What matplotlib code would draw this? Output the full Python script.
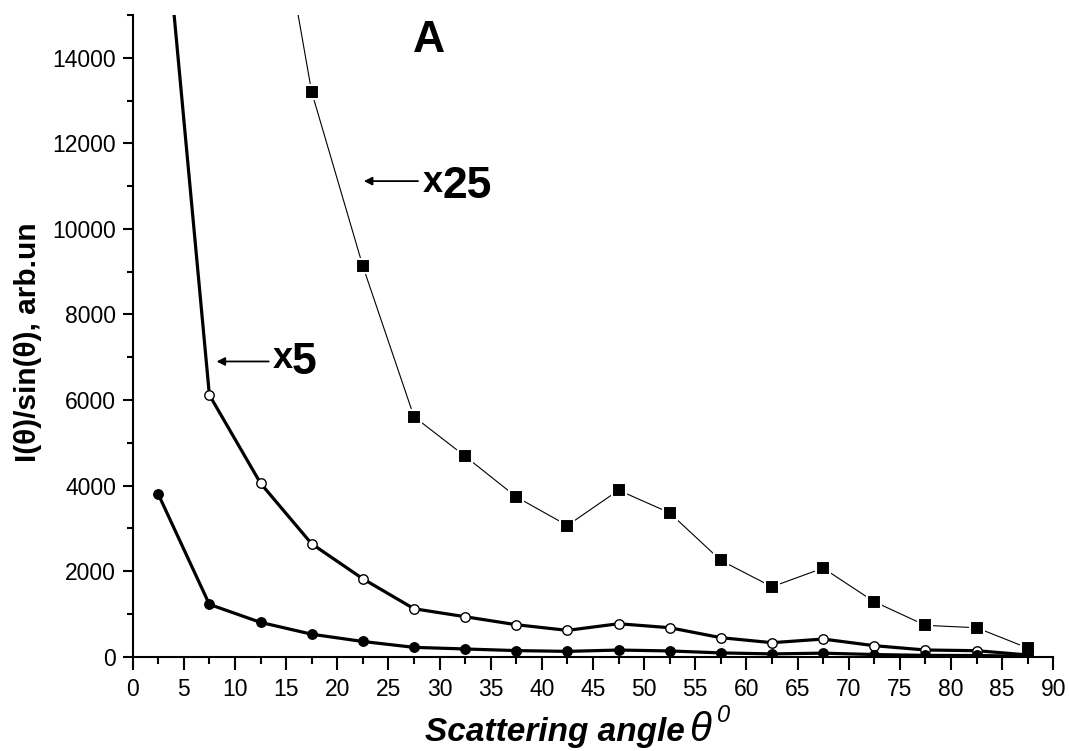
import matplotlib.pyplot as plt
from matplotlib.ticker import MultipleLocator

plt.rcParams['font.family'] = ['Liberation Sans', 'DejaVu Sans']

# scattering angles (deg)
angle = [2.5, 7.5, 12.5, 17.5, 22.5, 27.5, 32.5, 37.5, 42.5, 47.5,
         52.5, 57.5, 62.5, 67.5, 72.5, 77.5, 82.5, 87.5]

# measured I/sin, filled circles
raw = [3800, 1222, 802, 525, 355, 218, 180, 142, 124, 155,
       134, 88, 65, 82, 50, 30, 28, 8]

# x5 curve, open circles (first point is off-scale)
x5 = [19000, 6117, 4054, 2638, 1821, 1121, 934, 747, 615, 770,
      677, 444, 327, 412, 257, 156, 140, 40]

# x25 curve, squares (starts at 12.5, first point off-scale)
angle25 = angle[2:]
x25 = [20000, 13200, 9130, 5610, 4685, 3735, 3066, 3891,
       3362, 2249, 1634, 2070, 1284, 732, 677, 202]

fig = plt.figure(figsize=(10.69, 7.51), dpi=100)
ax = fig.add_axes([0.1241, 0.1256, 0.8612, 0.8545])

ax.plot(angle25, x25, '-', color='black', lw=0.8, marker='s', ms=10,
        mfc='black', mec='white', mew=1.5, zorder=3)
ax.plot(angle, x5, '-', color='black', lw=2.3, marker='o', ms=6.8,
        mfc='white', mec='black', mew=1.0, zorder=4)
ax.plot(angle, raw, '-', color='black', lw=2.3, marker='o', ms=6.8,
        mfc='black', mec='black', zorder=5)

ax.set_xlim(0, 90)
ax.set_ylim(0, 15000)
ax.xaxis.set_major_locator(MultipleLocator(5))
ax.xaxis.set_minor_locator(MultipleLocator(2.5))
ax.yaxis.set_minor_locator(MultipleLocator(1000))
ax.set_yticks(range(0, 15000, 2000))
ax.tick_params(which='major', direction='out', width=1.5, labelsize=16.5)
ax.tick_params(axis='x', which='major', length=9, pad=6)
ax.tick_params(axis='x', which='minor', length=5, width=1.5)
ax.tick_params(axis='y', which='major', length=7, pad=5)
ax.tick_params(axis='y', which='minor', length=4, width=1.5)
for s in ['top', 'right']:
    ax.spines[s].set_visible(False)
for s in ['left', 'bottom']:
    ax.spines[s].set_linewidth(1.5)

fig.text(0.026, 0.5446, 'I(\u03b8)/sin(\u03b8), arb.un', fontsize=21.5,
         fontweight='bold', rotation=90, ha='center', va='center')

# x label built from pieces
fig.text(0.3976, 0.013, 'Scattering angle', fontsize=24, fontweight='bold',
         fontstyle='italic', ha='left', va='baseline')
fig.text(0.645, 0.013, '\u03b8', fontsize=29, fontstyle='italic',
         ha='left', va='baseline')
fig.text(0.671, 0.039, '0', fontsize=17, fontstyle='italic',
         ha='left', va='baseline')

ax.text(29.0, 14136, 'A', fontsize=32, fontweight='bold',
        ha='center', va='baseline')

# multiplier labels with arrows
ax.annotate('', xy=(22.6, 11116), xytext=(27.9, 11116),
            arrowprops=dict(arrowstyle='-|>', lw=1.3, color='black',
                            mutation_scale=12, shrinkA=0, shrinkB=0))
ax.text(28.4, 10860, 'x', fontsize=26, fontweight='bold',
        ha='left', va='baseline')
ax.text(30.3, 10719, '25', fontsize=32, fontweight='bold',
        ha='left', va='baseline')

ax.annotate('', xy=(8.2, 6900), xytext=(13.3, 6900),
            arrowprops=dict(arrowstyle='-|>', lw=1.3, color='black',
                            mutation_scale=12, shrinkA=0, shrinkB=0))
ax.text(13.7, 6749, 'x', fontsize=26, fontweight='bold',
        ha='left', va='baseline')
ax.text(15.5, 6609, '5', fontsize=32, fontweight='bold',
        ha='left', va='baseline')

fig.savefig('out.png', dpi=100)
